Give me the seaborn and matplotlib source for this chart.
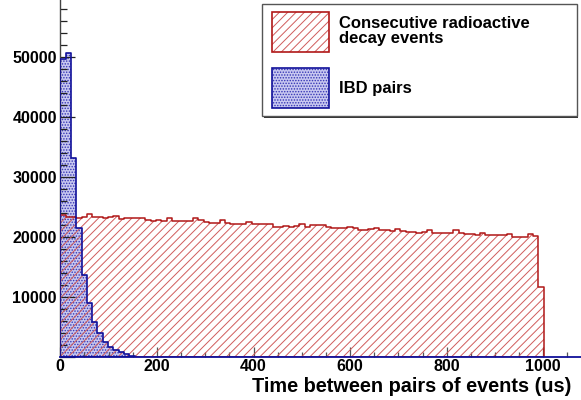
import numpy as np
import pandas as pd
import matplotlib
matplotlib.use("Agg")
import matplotlib.pyplot as plt
import seaborn as sns
from matplotlib.patches import Rectangle
from matplotlib.ticker import MultipleLocator

# histogram contents (bins of 11 us starting at 0)
BIN_WIDTH = 11
decay_counts = [
    23600, 23400, 23300, 23200, 23400, 23800, 23300, 23300, 23200, 23300,
    23500, 23000, 23200, 23200, 23100, 23100, 22800, 22700, 22850, 22700,
    23100, 22750, 22700, 22700, 22650, 23100, 22800, 22450, 22400, 22400,
    22850, 22300, 22150, 22100, 22150, 22500, 22100, 22150, 22100, 22250,
    21750, 21750, 21800, 21750, 21800, 22100, 21750, 22000, 22000, 21950,
    21750, 21450, 21500, 21500, 21650, 21450, 21200, 21150, 21400, 21550,
    21200, 21100, 21050, 21300, 20950, 20800, 20800, 20750, 20800, 21100,
    20600, 20600, 20650, 20600, 21100, 20750, 20450, 20450, 20400, 20600,
    20350, 20300, 20350, 20300, 20550, 20050, 20050, 20000, 20450, 20150,
    11600,
]
ibd_counts = [
    49600, 50700, 33100, 21450, 13670, 9050, 5880, 3950, 2550, 1720,
    1200, 800, 500, 250,
]

x_ticks = [0, 200, 400, 600, 800, 1000]
y_ticks = [0, 10000, 20000, 30000, 40000, 50000, 60000]
y_tick_labels = ["", "10000", "20000", "30000", "40000", "50000", ""]

x_title = "Time between pairs of events (us)"
legend_labels = ["Consecutive radioactive\ndecay events", "IBD pairs"]


def to_frame(counts):
    edges = np.arange(len(counts) + 1) * BIN_WIDTH
    centers = edges[:-1] + BIN_WIDTH / 2
    return pd.DataFrame({"t": centers, "n": counts}), [float(e) for e in edges]


plt.rcParams["font.family"] = ["Liberation Sans", "DejaVu Sans"]
plt.rcParams["font.weight"] = "bold"
plt.rcParams["hatch.linewidth"] = 0.7

RED_LINE = "#b01818"
RED_HATCH = "#d05c5c"
BLUE_LINE = "#10109a"
BLUE_FILL = "#c8c8f0"
BLUE_DOTS = "#3434b4"

W, H = 581, 400
fig = plt.figure(figsize=(W / 100, H / 100), dpi=100)
ax = fig.add_axes([60.3 / W, 43 / H, 1100 * 0.483 / W, 360 / H])

decay_df, decay_edges = to_frame(decay_counts)
ibd_df, ibd_edges = to_frame(ibd_counts)

# blue fill with dots
sns.histplot(data=ibd_df, x="t", weights="n", bins=ibd_edges, element="step",
             fill=True, ax=ax, color=BLUE_FILL, facecolor=BLUE_FILL,
             edgecolor=BLUE_DOTS, hatch="......", linewidth=0, alpha=1, zorder=1)
# red hatch
sns.histplot(data=decay_df, x="t", weights="n", bins=decay_edges, element="step",
             fill=True, ax=ax, color=RED_HATCH, facecolor="none",
             edgecolor=RED_HATCH, hatch="////", linewidth=0, alpha=1, zorder=2)
# outlines
sns.histplot(data=decay_df, x="t", weights="n", bins=decay_edges, element="step",
             fill=True, ax=ax, color=RED_LINE, facecolor="none",
             edgecolor=RED_LINE, linewidth=1.1, alpha=1, zorder=3)
sns.histplot(data=ibd_df, x="t", weights="n", bins=ibd_edges, element="step",
             fill=True, ax=ax, color=BLUE_LINE, facecolor="none",
             edgecolor=BLUE_LINE, linewidth=1.2, alpha=1, zorder=4)

ax.set_xlim(0, 1100)
ax.set_ylim(0, 60000)
ax.set_xlabel("")
ax.set_ylabel("")

ax.set_xticks(x_ticks)
ax.set_xticklabels([str(v) for v in x_ticks])
ax.xaxis.set_minor_locator(MultipleLocator(50))
ax.set_yticks(y_ticks)
ax.set_yticklabels(y_tick_labels)
ax.yaxis.set_minor_locator(MultipleLocator(2000))

ax.tick_params(axis="x", which="major", direction="in", length=7.2, width=0.9,
               color="#555555", labelsize=11.5, pad=1.2)
ax.tick_params(axis="x", which="minor", direction="in", length=3.6, width=0.9,
               color="#555555")
ax.tick_params(axis="y", which="major", direction="in", length=10.8, width=0.9,
               color="#222222", labelsize=11.5, pad=2.5)
ax.tick_params(axis="y", which="minor", direction="in", length=5, width=0.9,
               color="#222222")
for lab in ax.get_xticklabels() + ax.get_yticklabels():
    lab.set_fontweight("bold")

ax.spines["top"].set_visible(False)
ax.spines["right"].set_visible(False)
ax.spines["left"].set_color("#444444")
ax.spines["left"].set_linewidth(1.0)
ax.spines["bottom"].set_color(BLUE_LINE)
ax.spines["bottom"].set_linewidth(1.3)
ax.spines["bottom"].set_zorder(6)

fig.text(571 / W, 1 - 387 / H, x_title, ha="right", va="center",
         fontsize=14.3, fontweight="bold")

# legend box drawn in figure pixels
def px_rect(x0, y0, x1, y1, **kw):
    return Rectangle((x0 / W, 1 - y1 / H), (x1 - x0) / W, (y1 - y0) / H,
                     transform=fig.transFigure, **kw)

fig.add_artist(px_rect(263.5, 5.5, 578, 117.5, facecolor="#333333",
                       edgecolor="none", zorder=9))
fig.add_artist(px_rect(262, 4, 576.5, 116, facecolor="white",
                       edgecolor="#555555", linewidth=1.0, zorder=10))
fig.add_artist(px_rect(272, 12.5, 329, 51.5, facecolor="white",
                       edgecolor=RED_HATCH, hatch="////", linewidth=0, zorder=11))
fig.add_artist(px_rect(272, 12.5, 329, 51.5, facecolor="none",
                       edgecolor=RED_LINE, linewidth=1.2, zorder=12))
fig.add_artist(px_rect(272, 68.5, 329, 107.5, facecolor=BLUE_FILL,
                       edgecolor=BLUE_DOTS, hatch="......", linewidth=0, zorder=11))
fig.add_artist(px_rect(272, 68.5, 329, 107.5, facecolor="none",
                       edgecolor=BLUE_LINE, linewidth=1.2, zorder=12))
fig.text(339 / W, 1 - 31 / H, legend_labels[0], ha="left", va="center",
         fontsize=12, fontweight="bold", linespacing=0.95, zorder=13)
fig.text(339 / W, 1 - 88 / H, legend_labels[1], ha="left", va="center",
         fontsize=12, fontweight="bold", zorder=13)

fig.savefig("out.png", dpi=100)
